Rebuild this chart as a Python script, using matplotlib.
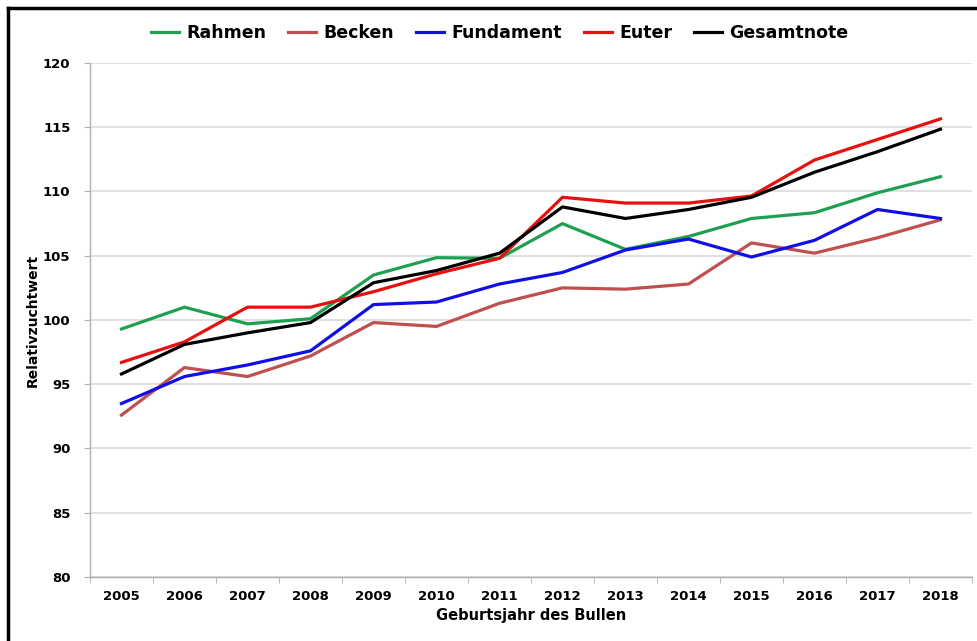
import matplotlib.pyplot as plt
from matplotlib.lines import Line2D

years = [2005, 2006, 2007, 2008, 2009, 2010, 2011, 2012, 2013, 2014, 2015, 2016, 2017, 2018]

rahmen = [99.3, 101.0, 99.7, 100.1, 103.5, 104.85, 104.8, 107.5, 105.5, 106.5, 107.9, 108.35, 109.9, 111.15]
becken = [92.6, 96.3, 95.6, 97.2, 99.8, 99.5, 101.3, 102.5, 102.4, 102.8, 106.0, 105.2, 106.4, 107.8]
fundament = [93.5, 95.6, 96.5, 97.6, 101.2, 101.4, 102.8, 103.7, 105.45, 106.3, 104.9, 106.2, 108.6, 107.9]
euter = [96.7, 98.3, 101.0, 101.0, 102.2, 103.6, 104.8, 109.55, 109.1, 109.1, 109.65, 112.45, 114.05, 115.65]
gesamt = [95.8, 98.1, 99.0, 99.8, 102.9, 103.85, 105.2, 108.8, 107.9, 108.6, 109.55, 111.5, 113.1, 114.85]

series = [
    ('Rahmen', rahmen, '#1fa050'),
    ('Becken', becken, '#c0504d'),
    ('Fundament', fundament, '#0f0fe6'),
    ('Euter', euter, '#e8100f'),
    ('Gesamtnote', gesamt, '#000000'),
]

plt.rcParams['font.family'] = 'DejaVu Sans'
plt.rcParams['font.weight'] = 'bold'

fig = plt.figure(figsize=(9.78, 6.41), dpi=100)
ax = fig.add_axes([90 / 978, 1 - 577 / 641, 882 / 978, 514 / 641])

x = list(range(len(years)))
for name, vals, col in series:
    ax.plot(x, vals, color=col, lw=2.3, label=name, solid_joinstyle='round')

ax.set_xlim(-0.5, len(years) - 0.5)
ax.set_ylim(80, 120)
ax.set_yticks(range(80, 121, 5))
ax.set_xticks(x)
ax.set_xticklabels([str(y) for y in years])
ax.set_xticks([i - 0.5 for i in range(len(years) + 1)], minor=True)
ax.tick_params(axis='x', which='major', length=0, pad=9, labelsize=9.5)
ax.tick_params(axis='x', which='minor', length=4, color='#b0b0b0', direction='out')
ax.tick_params(axis='y', length=4, color='#b0b0b0', labelsize=9.5, pad=10)

ax.grid(axis='y', color='#dadada', lw=1.2)
ax.set_axisbelow(True)
for s in ['top', 'right']:
    ax.spines[s].set_visible(False)
for s in ['left', 'bottom']:
    ax.spines[s].set_color('#b0b0b0')
    ax.spines[s].set_linewidth(1.0)

ax.set_xlabel('Geburtsjahr des Bullen', fontsize=10.5, fontweight='bold', labelpad=4)
ax.set_ylabel('Relativzuchtwert', fontsize=10, fontweight='bold', labelpad=2)

fig.legend(loc='center', bbox_to_anchor=(0.511, 0.948), ncol=5, frameon=False,
           handlelength=1.6, handletextpad=0.4, columnspacing=1.3,
           prop={'weight': 'bold', 'size': 12.5})

# frame of the screenshot (top and left only)
fig.add_artist(Line2D([8 / 978, 8 / 978], [0, 1 - 8 / 641], color='black', lw=2.5,
                      transform=fig.transFigure))
fig.add_artist(Line2D([8 / 978, 1], [1 - 8 / 641, 1 - 8 / 641], color='black', lw=2.5,
                      transform=fig.transFigure))

fig.savefig('out.png', dpi=100)
